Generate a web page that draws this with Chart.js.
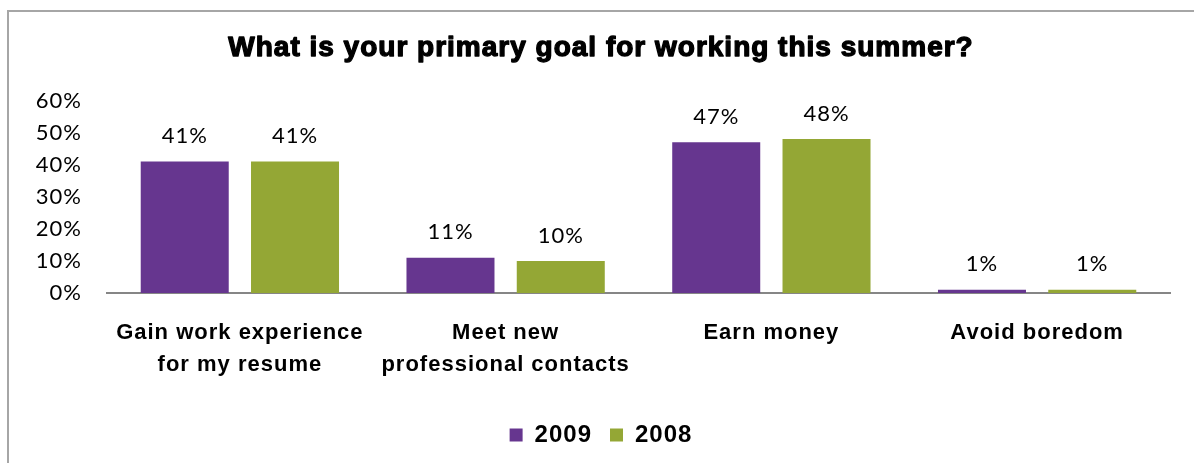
<!DOCTYPE html>
<html>
<head>
<meta charset="utf-8">
<script src="https://cdn.jsdelivr.net/npm/chart.js@4.4.1/dist/chart.umd.min.js"></script>
<style>
  html, body { margin: 0; padding: 0; background: #fff; }
  #wrap { position: relative; width: 1194px; height: 463px; overflow: hidden; }
  #frame { position: absolute; left: 7px; top: 10px; width: 1300px; height: 600px;
           border-left: 2px solid #a6a6a6; border-top: 2px solid #a6a6a6; }
  canvas { position: absolute; left: 0; top: 0; }
</style>
</head>
<body>
<div id="wrap">
  <div id="frame"></div>
  <canvas id="c" width="1194" height="463"></canvas>
</div>
<script>
// Survey answers and the share of respondents per year
const categories = [
  ['Gain work experience', 'for my resume'],
  ['Meet new', 'professional contacts'],
  ['Earn money'],
  ['Avoid boredom']
];
const values2009 = [41, 11, 47, 1];
const values2008 = [41, 10, 48, 1];
const seriesNames = ['2009', '2008'];
const yTicks = [0, 10, 20, 30, 40, 50, 60];

const PURPLE = '#66368f';
const GREEN = '#94a735';
const TITLE = 'What is your primary goal for working this summer?';
const TITLE_FONT = { family: '"Liberation Sans", Arial, sans-serif', size: 28, weight: 'bold' };

// Slightly wider letter spacing for all chart text
const spacing = {
  id: 'spacing',
  beforeUpdate(chart) { chart.ctx.letterSpacing = '1px'; },
  beforeDraw(chart) { chart.ctx.letterSpacing = '1px'; }
};

// Heavier title: outline the title text drawn by the title plugin
const heavyTitle = {
  id: 'heavyTitle',
  afterDraw(chart) {
    const tb = chart.titleBlock;
    if (!tb) return;
    const ctx = chart.ctx;
    const lh = TITLE_FONT.size * 1.2;
    ctx.save();
    ctx.font = `bold ${TITLE_FONT.size}px ${TITLE_FONT.family}`;
    ctx.textAlign = 'center';
    ctx.textBaseline = 'middle';
    ctx.strokeStyle = '#000';
    ctx.lineWidth = 1.3;
    ctx.lineJoin = 'round';
    ctx.strokeText(TITLE, (tb.left + tb.right) / 2, tb.top + tb.options.padding.top + lh / 2);
    ctx.restore();
  }
};

// Writes each bar's percentage above it
const valueLabels = {
  id: 'valueLabels',
  afterDatasetsDraw(chart) {
    const ctx = chart.ctx;
    ctx.save();
    ctx.font = '22px Lato, "Liberation Sans", sans-serif';
    ctx.fillStyle = '#000';
    ctx.textAlign = 'center';
    ctx.textBaseline = 'middle';
    chart.data.datasets.forEach((ds, i) => {
      chart.getDatasetMeta(i).data.forEach((bar, j) => {
        ctx.fillText(ds.data[j] + '%', bar.x, bar.y - 25.5);
      });
    });
    ctx.restore();
  }
};

new Chart(document.getElementById('c'), {
  type: 'bar',
  data: {
    labels: categories,
    datasets: [
      { label: seriesNames[0], data: values2009, backgroundColor: PURPLE },
      { label: seriesNames[1], data: values2008, backgroundColor: GREEN }
    ]
  },
  options: {
    responsive: false,
    animation: false,
    devicePixelRatio: 1,
    layout: { padding: { left: 32, right: 24, top: 10, bottom: 6 } },
    datasets: { bar: { categoryPercentage: 0.83, barPercentage: 0.798 } },
    plugins: {
      title: {
        display: true,
        text: TITLE,
        color: '#000',
        font: TITLE_FONT,
        padding: { top: 21, bottom: 36 }
      },
      legend: {
        position: 'bottom',
        labels: {
          color: '#000',
          boxWidth: 13,
          boxHeight: 13,
          padding: 18,
          font: { family: '"Liberation Sans", Arial, sans-serif', size: 24, weight: 'bold' }
        }
      },
      tooltip: { enabled: false }
    },
    scales: {
      x: {
        grid: { display: false, drawTicks: false },
        border: { display: true, color: '#868686', width: 2 },
        ticks: {
          color: '#000',
          padding: 24,
          maxRotation: 0,
          autoSkip: false,
          font: { family: '"Liberation Sans", Arial, sans-serif', size: 22, weight: 'bold', lineHeight: 32 / 22 }
        }
      },
      y: {
        min: 0,
        max: 60,
        grid: { display: false, drawTicks: false },
        border: { display: false },
        afterFit(scale) { scale.width = 75; },
        afterBuildTicks(scale) { scale.ticks = yTicks.map(v => ({ value: v })); },
        ticks: {
          color: '#000',
          padding: 25,
          font: { family: 'Lato, "Liberation Sans", sans-serif', size: 22 },
          callback: v => v + '%'
        }
      }
    }
  },
  plugins: [spacing, valueLabels, heavyTitle]
});
</script>
</body>
</html>
